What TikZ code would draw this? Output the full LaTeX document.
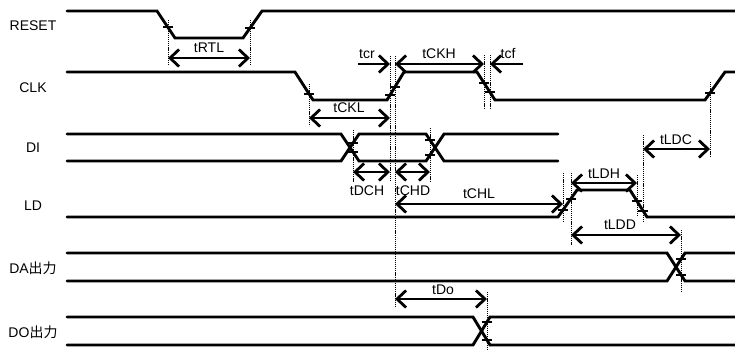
\documentclass[tikz,border=0pt]{standalone}
\usepackage{fontspec}
\setmainfont{Liberation Sans}
\newfontfamily\cjk{Noto Sans CJK JP}
\usetikzlibrary{arrows.meta}

\begin{document}
\begin{tikzpicture}[x=1pt,y=-1pt,>={Straight Barb[length=9pt,width=17pt]},
	sig/.style={line width=2.9pt,line cap=round},
	dimline/.style={line width=2.8pt},
	guide/.style={line width=1pt,dash pattern=on 1.2pt off 0.9pt},
	crossmark/.style={line width=2.2pt},
	signame/.style={anchor=base,inner sep=0pt,font=\fontsize{14}{16}\selectfont},
	lbl/.style={anchor=base,inner sep=0pt,font=\fontsize{14}{16}\selectfont}]

	\useasboundingbox (0,0) rectangle (735,349);

	% signal names
	\node[signame] (reset) at (33,30) {RESET};
	\node[signame] (clk) at (33,92) {CLK};
	\node[signame] (di) at (33,152) {DI};
	\node[signame] (ld) at (33,210) {LD};
	\node[signame] (da) at (33,273) {DA{\cjk 出力}};
	\node[signame] (do) at (33,337) {DO{\cjk 出力}};

	% dotted guide lines
	\foreach \x/\ya/\yb in {168/20/66, 250/20/66, 309/84/126, 390/56/180, 395/56/306,
		484/55/108, 490/55/108, 710/82/156, 353/130/182, 430/128/182,
		563/173/222, 571/173/245, 637/175/215, 643/135/222, 681/230/292, 487/292/349}
		\draw[guide] (\x,\ya) -- (\x,\yb);

	% waveforms
	\draw[sig] (67,11) -- (157,11) -- (175,38) -- (243,38) -- (262,11) -- (735,11);
	\draw[sig] (67,72) -- (295,72) -- (313,100) -- (387,100) -- (404,72) -- (477,72)
		-- (495,100) -- (705,100) -- (725,72) -- (735,72);
	\draw[sig] (67,134) -- (341,134) -- (359,161) -- (426,161) -- (444,134) -- (558,134);
	\draw[sig] (67,161) -- (341,161) -- (359,134) -- (426,134) -- (444,161) -- (558,161);
	\draw[sig] (67,217) -- (558,217) -- (577,190) -- (630,190) -- (647,217) -- (735,217);
	\draw[sig] (67,253) -- (667,253) -- (685,281) -- (735,281);
	\draw[sig] (67,281) -- (667,281) -- (685,253) -- (735,253);
	\draw[sig] (67,317) -- (473,317) -- (490,345) -- (735,345);
	\draw[sig] (67,345) -- (473,345) -- (490,317) -- (735,317);

	% marks on the edges
	\foreach \x/\y in {168/27, 250/28, 309/94, 390/95, 395/87, 484/83, 490/92, 710/93,
		353/143, 353/152, 430/140, 430/155, 563/210, 571/199, 637/201, 643/211,
		681/259, 681/275, 487/322, 487/340}
		\draw[crossmark] (\x-5,\y) -- (\x+5,\y);

	% time points
	\coordinate (rtlA) at (168,58);  \coordinate (rtlB) at (250,58);
	\coordinate (cklA) at (309,118); \coordinate (cklB) at (390,118);
	\coordinate (crA) at (358,64);   \coordinate (crB) at (390,64);
	\coordinate (ckhA) at (395,64);  \coordinate (ckhB) at (484,64);
	\coordinate (cfA) at (523,64);   \coordinate (cfB) at (490,64);
	\coordinate (dchA) at (353,172); \coordinate (dchB) at (390,172);
	\coordinate (chdA) at (395,172); \coordinate (chdB) at (430,172);
	\coordinate (chlA) at (395,204); \coordinate (chlB) at (563,204);
	\coordinate (ldhA) at (571,183); \coordinate (ldhB) at (637,183);
	\coordinate (ldcA) at (643,149); \coordinate (ldcB) at (710,149);
	\coordinate (lddA) at (571,235); \coordinate (lddB) at (681,235);
	\coordinate (doA) at (395,299);  \coordinate (doB) at (487,299);

	% timing arrows
	\draw[dimline,<->] (rtlA) -- (rtlB);
	\draw[dimline,<->] (cklA) -- (cklB);
	\draw[dimline,->] (crA) -- (crB);
	\draw[dimline,<->] (ckhA) -- (ckhB);
	\draw[dimline,->] (cfA) -- (cfB);
	\draw[dimline,<->] (dchA) -- (dchB);
	\draw[dimline,<->] (chdA) -- (chdB);
	\draw[dimline,<->] (chlA) -- (chlB);
	\draw[dimline,<->] (ldhA) -- (ldhB);
	\draw[dimline,<->] (ldcA) -- (ldcB);
	\draw[dimline,<->] (lddA) -- (lddB);
	\draw[dimline,<->] (doA) -- (doB);

	% timing labels
	\node[lbl] (tRTL) at (209,52) {tRTL};
	\node[lbl] (tCKL) at (349,112) {tCKL};
	\node[lbl] (tcr) at (367,58) {tcr};
	\node[lbl] (tCKH) at (439,58) {tCKH};
	\node[lbl] (tcf) at (508,58) {tcf};
	\node[lbl] (tDCH) at (367,195) {tDCH};
	\node[lbl] (tCHD) at (413,195) {tCHD};
	\node[lbl] (tCHL) at (479,198) {tCHL};
	\node[lbl] (tLDH) at (604,178) {tLDH};
	\node[lbl] (tLDC) at (676,144) {tLDC};
	\node[lbl] (tLDD) at (620,229) {tLDD};
	\node[lbl] (tDo) at (443,294) {tDo};

\end{tikzpicture}
\end{document}
